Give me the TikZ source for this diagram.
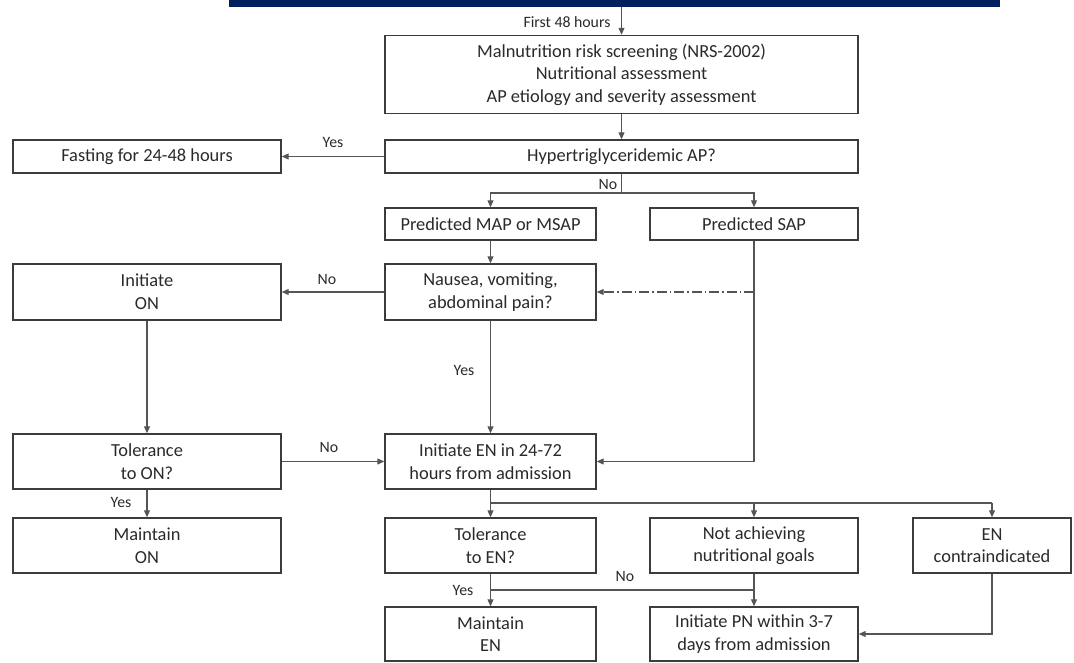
\documentclass[tikz,border=0pt]{standalone}
\usepackage{fontspec}
\setmainfont{Carlito}
\usetikzlibrary{arrows.meta}
\definecolor{navy}{HTML}{002060}
\definecolor{boxline}{HTML}{3C3C3C}
\definecolor{conn}{HTML}{555555}
\definecolor{txt}{HTML}{2A2A2A}
\tikzset{
  box/.style={draw=boxline, line width=1.4pt, fill=white, inner sep=0pt, align=center,
    text=txt, font=\fontsize{18.4}{22.6}\selectfont},
  lbl/.style={inner sep=0pt, text=txt, font=\fontsize{15.8}{19}\selectfont},
  conline/.style={draw=conn, line width=1.1pt},
  arr/.style={conline, -{Triangle[length=7pt,width=6pt]}},
  dashdot/.style={dash pattern=on 10pt off 3pt on 1.5pt off 3pt}
}
\begin{document}
\begin{tikzpicture}[x=1pt,y=-1pt]
\useasboundingbox (0,0) rectangle (1074,663);
% top bar
\node[fill=navy, inner sep=0pt, minimum width=771pt, minimum height=7pt] (bar) at (614.5,3.5) {};
% nodes
\node[box, minimum width=473pt, minimum height=78pt] (box1) at (621.5,74.5)
  {Malnutrition risk screening (NRS-2002)\\Nutritional assessment\\AP etiology and severity assessment};
\node[box, minimum width=473pt, minimum height=33pt] (hyper) at (621.5,156.5) {Hypertriglyceridemic AP?};
\node[box, minimum width=268pt, minimum height=33pt] (fast) at (147,156.5) {Fasting for 24-48 hours};
\node[box, minimum width=211pt, minimum height=32pt] (map) at (490.5,224) {Predicted MAP or MSAP};
\node[box, minimum width=208pt, minimum height=32pt] (sap) at (754,224) {Predicted SAP};
\node[box, minimum width=211pt, minimum height=56pt] (naus) at (490.5,292) {Nausea, vomiting,\\abdominal pain?};
\node[box, minimum width=268pt, minimum height=56pt] (ion) at (147,292) {Initiate\\ON};
\node[box, minimum width=211pt, minimum height=55pt] (ien) at (490.5,461.5) {Initiate EN in 24-72\\hours from admission};
\node[box, minimum width=268pt, minimum height=55pt] (ton) at (147,461.5) {Tolerance\\to ON?};
\node[box, minimum width=268pt, minimum height=55pt] (mon) at (147,545.5) {Maintain\\ON};
\node[box, minimum width=211pt, minimum height=55pt] (ten) at (490.5,545.5) {Tolerance\\to EN?};
\node[box, minimum width=208pt, minimum height=55pt] (nag) at (754,545.5) {Not achieving\\nutritional goals};
\node[box, minimum width=158pt, minimum height=55pt] (enc) at (992,545.5) {EN\\contraindicated};
\node[box, minimum width=211pt, minimum height=54pt] (men) at (490.5,634) {Maintain\\EN};
\node[box, minimum width=208pt, minimum height=54pt] (ipn) at (754,634) {Initiate PN within 3-7\\days from admission};
% junction coordinates
\coordinate (j1) at (621.5,193);
\coordinate (jb) at (490.5,503);
\coordinate (jn) at (490.5,590);
% connectors
\draw[arr] (box1.north |- bar.south) -- (box1.north);
\node[lbl] (l48) at (567,22) {First 48 hours};
\draw[arr] (box1.south) -- (hyper.north);
\draw[arr] (hyper.west) -- (fast.east);
\node[lbl] (lyes1) at (333,142) {Yes};
\draw[conline] (hyper.south) -- (j1);
\draw[arr] (j1) -| (map.north);
\draw[arr] (j1) -| (sap.north);
\node[lbl] (lno1) at (608,184) {No};
\draw[arr] (map.south) -- (naus.north);
\draw[arr] (naus.west) -- (ion.east);
\node[lbl] (lno2) at (327,279) {No};
\draw[arr] (sap.south) |- (ien.east);
\draw[arr, dashdot] (sap.south |- naus.east) -- (naus.east);
\draw[arr] (naus.south) -- (ien.north);
\node[lbl] (lyes2) at (464,370) {Yes};
\draw[arr] (ion.south) -- (ton.north);
\draw[arr] (ton.east) -- (ien.west);
\node[lbl] (lno3) at (329,447) {No};
\draw[arr] (ton.south) -- (mon.north);
\node[lbl] (lyes3) at (121,502) {Yes};
\draw[arr] (ien.south) -- (ten.north);
\draw[conline] (jb) -- (enc.north |- jb);
\draw[arr] (nag.north |- jb) -- (nag.north);
\draw[arr] (enc.north |- jb) -- (enc.north);
\draw[arr] (ten.south) -- (men.north);
\node[lbl] (lyes4) at (463,590) {Yes};
\draw[conline] (jn) -- (nag.south |- jn);
\node[lbl] (lno4) at (625,576) {No};
\draw[arr] (nag.south) -- (ipn.north);
\draw[arr] (enc.south) |- (ipn.east);
\end{tikzpicture}
\end{document}
